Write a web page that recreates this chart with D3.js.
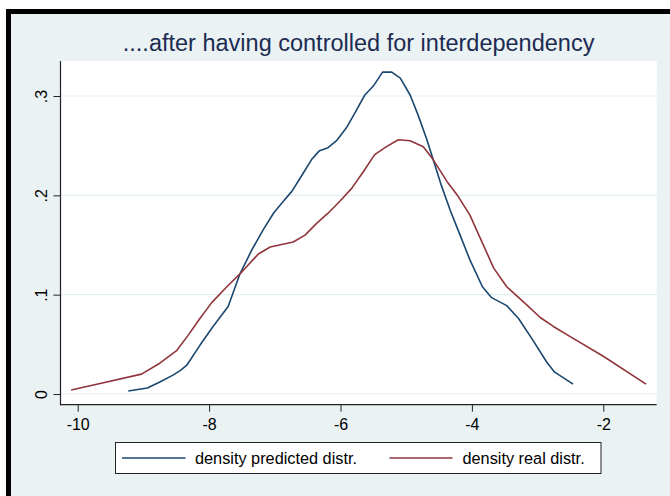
<!DOCTYPE html>
<html>
<head>
<meta charset="utf-8">
<script src="https://cdn.jsdelivr.net/npm/d3@7"></script>
<style>
  html, body { margin: 0; padding: 0; background: #ffffff; }
  svg { display: block; font-family: "Liberation Sans", Arial, sans-serif; }
</style>
</head>
<body>
<svg id="chart" width="670" height="496"></svg>
<script>
// Kernel density estimates: predicted vs. real distribution
const predictedX = [-9.23, -8.94, -8.75, -8.55, -8.43, -8.34, -8.14, -7.94, -7.71, -7.53, -7.35, -7.18,
  -7.02, -6.87, -6.74, -6.59, -6.44, -6.32, -6.19, -6.06, -5.91, -5.78, -5.63, -5.50, -5.36, -5.22,
  -5.09, -4.94, -4.82, -4.69, -4.59, -4.46, -4.33, -4.21, -4.03, -3.84, -3.70, -3.47, -3.29, -3.07,
  -2.86, -2.74, -2.46];
const predictedDensity = [0.003, 0.006, 0.012, 0.019, 0.024, 0.029, 0.049, 0.068, 0.088, 0.121, 0.145, 0.165,
  0.182, 0.194, 0.204, 0.220, 0.236, 0.245, 0.248, 0.255, 0.268, 0.283, 0.301, 0.310, 0.324, 0.324,
  0.318, 0.301, 0.281, 0.257, 0.236, 0.209, 0.185, 0.165, 0.135, 0.108, 0.097, 0.089, 0.076, 0.054,
  0.032, 0.022, 0.010];

const realX = [-10.10, -9.76, -9.03, -8.75, -8.49, -8.32, -8.14, -7.96, -7.73, -7.50, -7.25, -7.07,
  -6.72, -6.54, -6.36, -6.19, -6.01, -5.83, -5.65, -5.48, -5.30, -5.12, -4.94, -4.74, -4.59, -4.38,
  -4.21, -4.03, -3.88, -3.67, -3.47, -3.17, -2.96, -2.76, -2.51, -2.00, -1.35];
const realDensity = [0.004, 0.009, 0.020, 0.031, 0.044, 0.059, 0.076, 0.092, 0.108, 0.123, 0.141, 0.148,
  0.153, 0.160, 0.172, 0.182, 0.194, 0.207, 0.224, 0.241, 0.249, 0.256, 0.255, 0.249, 0.236, 0.214,
  0.199, 0.180, 0.158, 0.127, 0.108, 0.090, 0.077, 0.068, 0.058, 0.038, 0.010];

const xTicks = [-10, -8, -6, -4, -2];
const xTickLabels = ["-10", "-8", "-6", "-4", "-2"];
const yTicks = [0, 0.1, 0.2, 0.3];
const yTickLabels = ["0", ".1", ".2", ".3"];

const titleText = "....after having controlled for interdependency";
const seriesNames = ["density predicted distr.", "density real distr."];
const seriesColors = ["#1a476f", "#90353b"];

const W = 670, H = 496;
const plot = { left: 60.5, right: 656.7, top: 61, bottom: 404.7 };

const svg = d3.select("#chart");

// Outer frame (black band along top and left) and graph background
svg.append("rect").attr("x", 6).attr("y", 9).attr("width", W - 6).attr("height", H - 9).attr("fill", "#000");
svg.append("rect").attr("x", 11).attr("y", 14).attr("width", W - 11).attr("height", H - 14).attr("fill", "#eaf2f3");

// Plot region
svg.append("rect")
  .attr("x", plot.left).attr("y", plot.top)
  .attr("width", plot.right - plot.left).attr("height", plot.bottom - plot.top)
  .attr("fill", "#ffffff");

const x = d3.scaleLinear().domain([-10, -2]).range([77.7, 603.3]);
const y = d3.scaleLinear().domain([0, 0.3]).range([394, 96]);

// Horizontal grid lines
svg.append("g").selectAll("line").data(yTicks).join("line")
  .attr("x1", plot.left).attr("x2", plot.right)
  .attr("y1", d => y(d)).attr("y2", d => y(d))
  .attr("stroke", "#e3eef1").attr("stroke-width", 1.2);

// Density curves
const line = d3.line().x(d => x(d[0])).y(d => y(d[1]));
const seriesData = [
  d3.zip(predictedX, predictedDensity),
  d3.zip(realX, realDensity)
];
svg.append("g").selectAll("path").data(seriesData).join("path")
  .attr("d", line)
  .attr("fill", "none")
  .attr("stroke", (d, i) => seriesColors[i])
  .attr("stroke-width", 1.6)
  .attr("stroke-linejoin", "round");

// Axes
const axisColor = "#222";
const yAxis = svg.append("g").attr("transform", `translate(${plot.left},0)`)
  .call(d3.axisLeft(y).tickValues(yTicks).tickFormat((d, i) => yTickLabels[i]).tickSize(7));
yAxis.select(".domain").remove();
yAxis.selectAll(".tick line").attr("stroke", axisColor);
yAxis.selectAll(".tick text")
  .attr("x", 0).attr("y", -14).attr("dy", null)
  .attr("text-anchor", "middle")
  .attr("transform", "rotate(-90)")
  .attr("font-size", 16).attr("font-family", "Liberation Sans, Arial, sans-serif")
  .attr("fill", "#000");

const xAxis = svg.append("g").attr("transform", `translate(0,${plot.bottom})`)
  .call(d3.axisBottom(x).tickValues(xTicks).tickFormat((d, i) => xTickLabels[i]).tickSize(7));
xAxis.select(".domain").remove();
xAxis.selectAll(".tick line").attr("stroke", axisColor);
xAxis.selectAll(".tick text")
  .attr("y", 13.5).attr("dy", "0.71em")
  .attr("font-size", 16).attr("font-family", "Liberation Sans, Arial, sans-serif")
  .attr("fill", "#000");

svg.append("line").attr("x1", plot.left).attr("x2", plot.left)
  .attr("y1", plot.top).attr("y2", plot.bottom + 0.5)
  .attr("stroke", axisColor).attr("stroke-width", 1.2);
svg.append("line").attr("x1", plot.left - 0.5).attr("x2", plot.right)
  .attr("y1", plot.bottom).attr("y2", plot.bottom)
  .attr("stroke", axisColor).attr("stroke-width", 1.2);

// Title
svg.append("text")
  .attr("x", (plot.left + plot.right) / 2).attr("y", 51)
  .attr("text-anchor", "middle")
  .attr("font-size", 23.5)
  .attr("fill", "#1c2b52")
  .text(titleText);

// Legend
const legend = svg.append("g");
legend.append("rect")
  .attr("x", 115.5).attr("y", 442.5).attr("width", 485.5).attr("height", 31)
  .attr("fill", "#ffffff").attr("stroke", axisColor).attr("stroke-width", 1);
const legendItems = [
  { x1: 122, x2: 185.5, tx: 195 },
  { x1: 389.5, x2: 452.5, tx: 462.5 }
];
legendItems.forEach((it, i) => {
  legend.append("line")
    .attr("x1", it.x1).attr("x2", it.x2).attr("y1", 458).attr("y2", 458)
    .attr("stroke", seriesColors[i]).attr("stroke-width", 1.6);
  legend.append("text")
    .attr("x", it.tx).attr("y", 463.8)
    .attr("font-size", 16.3).attr("fill", "#000")
    .text(seriesNames[i]);
});
</script>
</body>
</html>
